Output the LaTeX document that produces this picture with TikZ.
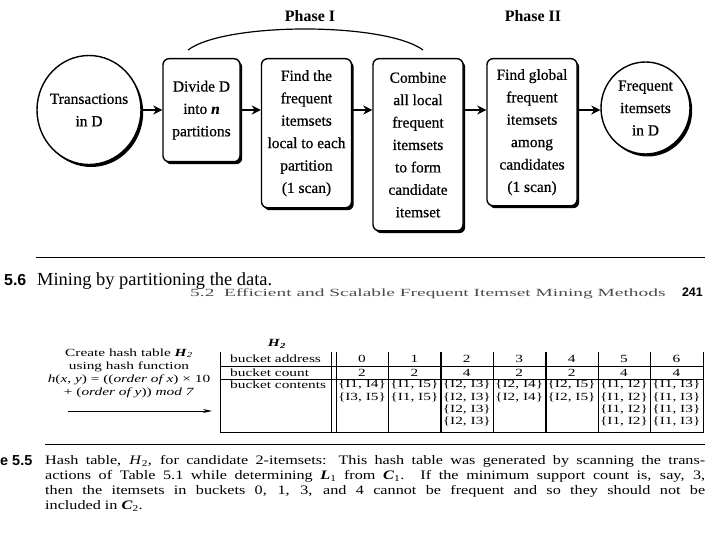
\documentclass[tikz,border=0pt]{standalone}
\usepackage{fontspec}
\usepackage{graphicx}
\setmainfont{Liberation Serif}
\setsansfont{Liberation Sans}
\newfontfamily\flowfont[FakeBold=0.5]{Liberation Serif}
\newfontfamily\widefont[FakeStretch=1.4]{Liberation Serif}
\newfontfamily\capfont[FakeStretch=1.25]{Liberation Serif}
\usetikzlibrary{arrows.meta,shapes.geometric,shadows}
\newcommand{\itempair}[2]{\{I#1, I#2\}}

\begin{document}
\begin{tikzpicture}[x=1bp, y=-1bp,
  stage/.style={draw, line width=1.4bp, rounded corners=6bp, fill=white, align=center, anchor=north, inner sep=0pt, minimum width=90bp, general shadow={fill=black, shadow xshift=2.2bp, shadow yshift=-2.5bp}, font=\flowfont\fontsize{15.5}{22.5}\selectfont},
  dataset/.style={ellipse, draw, line width=1.4bp, fill=white, align=center, inner xsep=-4bp, inner ysep=0pt, general shadow={fill=black, shadow xshift=2.2bp, shadow yshift=-2.5bp}, font=\flowfont\fontsize{15.5}{22.5}\selectfont},
  flow/.style={-{Stealth[length=9bp,width=9bp]}, line width=2.4bp},
  phase/.style={font=\bfseries\fontsize{16}{16}\selectfont},
  tabline/.style={line width=0.8bp},
  cell/.style={inner sep=0pt, font=\widefont\fontsize{11}{12}\selectfont}]
\fill[white] (0,0) rectangle (720,540);
\useasboundingbox (0,0) rectangle (720,540);

% Phase I / Phase II
\node[dataset, minimum width=104bp, minimum height=109bp] (trans) at (89,110) {Transactions\\in D};
\node[stage, minimum width=77bp, minimum height=103bp] (divide) at (201.5,58) {Divide D\\into \textbf{\textit{n}}\\partitions};
\node[stage, minimum height=149bp] (findlocal) at (306.5,58) {Find the\\frequent\\itemsets\\local to each\\partition\\(1 scan)};
\node[stage, minimum height=172bp] (combine) at (418,58) {Combine\\all local\\frequent\\itemsets\\to form\\candidate\\itemset};
\node[stage, minimum height=147bp] (findglobal) at (532,58) {Find global\\frequent\\itemsets\\among\\candidates\\(1 scan)};
\node[dataset, minimum width=89bp, minimum height=92bp] (freq) at (645.5,108) {Frequent\\itemsets\\in D};

\draw[flow] (trans.east) -- (trans.east -| divide.west);
\draw[flow] (divide.east |- trans.east) -- (findlocal.west |- trans.east);
\draw[flow] (findlocal.east |- trans.east) -- (combine.west |- trans.east);
\draw[flow] (combine.east |- trans.east) -- (findglobal.west |- trans.east);
\draw[flow] (findglobal.east |- trans.east) -- (freq.west |- trans.east);

\coordinate (phaseL) at (188,50);
\coordinate (phaseR) at (423,50);
\draw[line width=1.2bp] (phaseL) .. controls (225,22) and (385,22) .. (phaseR);
\node[phase] (phase1) at (310,16) {Phase I};
\node[phase] (phase2) at (533,16) {Phase II};

% figure caption and running head
\draw[line width=1bp] (36,258) -- (705,258);
\node[anchor=base west, inner sep=0pt, font=\sffamily\bfseries\fontsize{16}{16}\selectfont] (fignum) at (4,286) {5.6};
\node[anchor=base west, inner sep=0pt, font=\fontsize{18.5}{18.5}\selectfont] (figcap) at (37,286) {Mining by partitioning the data.};
\node[anchor=base west, text=black!70, inner sep=0pt, font=\fontsize{11}{11}\selectfont] (runhead) at (190,296) {\scalebox{1.77}[1]{5.2\ \ Efficient and Scalable Frequent Itemset Mining Methods}};
\node[anchor=base east, inner sep=0pt, font=\sffamily\bfseries\fontsize{12.5}{12.5}\selectfont] (pagenum) at (703,296) {241};

% hash table H2
\node[cell, align=center, font=\widefont\fontsize{11}{13}\selectfont] (hashfn) at (129,373) {Create hash table \textbf{\textit{H}}\textsubscript{\textit{2}}\\using hash function\\\textit{h}(\textit{x}, \textit{y}) = ((\textit{order of x}) × 10\\+ (\textit{order of y})) \textit{mod 7}};
\coordinate (hashstart) at (68,411);
\coordinate (hashend) at (212,411);
\draw[-{Stealth[length=9bp,width=4bp]}, line width=0.9bp] (hashstart) -- (hashend);
\node[cell] (tabname) at (277,344) {\textbf{\textit{H}}\textsubscript{\textbf{\textit{2}}}};

\draw[tabline] (220,352) -- (220,432) -- (703,432) -- (703,352);
\draw[tabline] (220,366) -- (703,366);
\draw[tabline] (220,379) -- (703,379);
\foreach \x in {331,336,388,493,598,650}
  \draw[tabline] (\x,352) -- (\x,432);
\foreach \x in {441,546}
  \draw[line width=1.5bp] (\x,352) -- (\x,432);

\node[cell, anchor=west] (addrlbl) at (230,359) {bucket address};
\node[cell, anchor=west] (cntlbl) at (230,372.5) {bucket count};
\node[cell, anchor=west] (contlbl) at (230,385) {bucket contents};
\foreach \n/\c in {0/2,1/2,2/4,3/2,4/2,5/4,6/4} {
  \node[cell] (addr\n) at ({362+52.4*\n},359) {\n};
  \node[cell] (cnt\n) at ({362+52.4*\n},372.5) {\c};
}
\foreach \n/\r/\a/\b in {0/0/1/4, 0/1/3/5, 1/0/1/5, 1/1/1/5,
    2/0/2/3, 2/1/2/3, 2/2/2/3, 2/3/2/3, 3/0/2/4, 3/1/2/4, 4/0/2/5, 4/1/2/5,
    5/0/1/2, 5/1/1/2, 5/2/1/2, 5/3/1/2, 6/0/1/3, 6/1/1/3, 6/2/1/3, 6/3/1/3}
  \node[cell] (item\n-\r) at ({362+52.4*\n},{385+12.2*\r}) {\itempair{\a}{\b}};

% table caption
\draw[line width=1bp] (45,444) -- (705,444);
\node[anchor=base west, inner sep=0pt, font=\sffamily\bfseries\fontsize{14.5}{14.5}\selectfont] (tabnum) at (0,465) {e 5.5};
\node[anchor=north west, inner sep=0pt, align=left, font=\capfont\fontsize{13}{15}\selectfont] (tabcap) at (45,455)
  {\makebox[660bp][s]{Hash table, \textit{H}\textsubscript{2}, for candidate 2-itemsets: This hash table was generated by scanning the trans-}\\
   \makebox[660bp][s]{actions of Table 5.1 while determining \textbf{\textit{L}}\textsubscript{1} from \textbf{\textit{C}}\textsubscript{1}. If the minimum support count is, say, 3,}\\
   \makebox[660bp][s]{then the itemsets in buckets 0, 1, 3, and 4 cannot be frequent and so they should not be}\\
   included in \textbf{\textit{C}}\textsubscript{2}.};
\end{tikzpicture}
\end{document}
